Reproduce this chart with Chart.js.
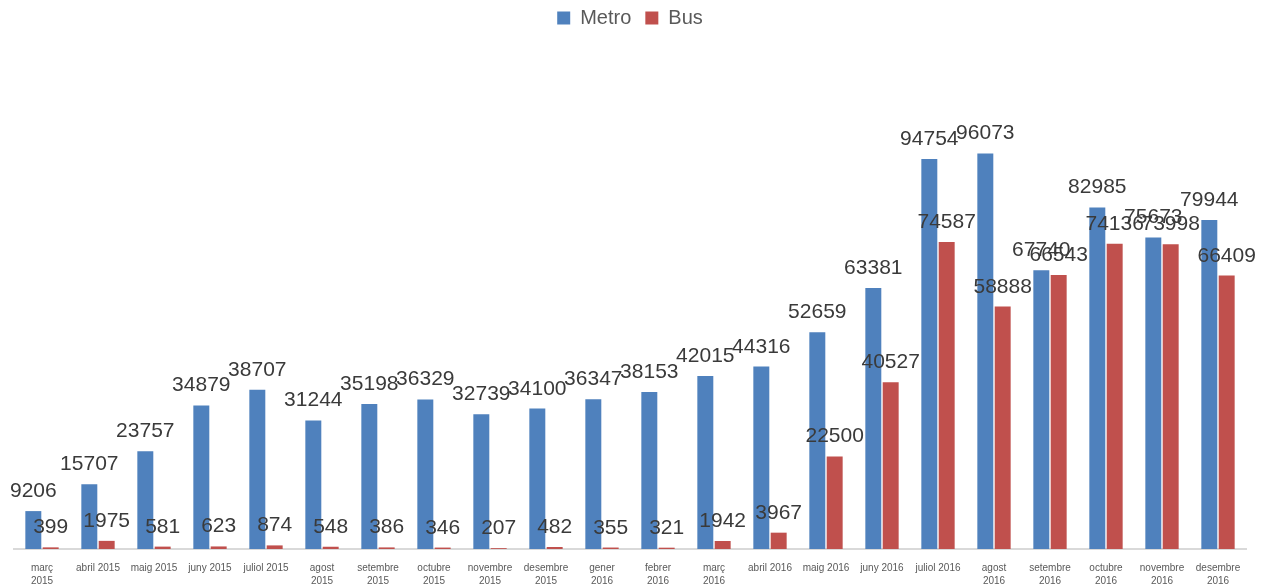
<!DOCTYPE html>
<html>
<head>
<meta charset="utf-8">
<script src="https://cdn.jsdelivr.net/npm/chart.js@4"></script>
<style>
  html, body { margin: 0; padding: 0; background: #fff; }
  #wrap { width: 1268px; height: 587px; }
</style>
</head>
<body>
<div id="wrap"><canvas id="chart" width="1268" height="587"></canvas></div>
<script>
const months = [
  ['març', '2015'], 'abril 2015', 'maig 2015', 'juny 2015', 'juliol 2015',
  ['agost', '2015'], ['setembre', '2015'], ['octubre', '2015'], ['novembre', '2015'], ['desembre', '2015'],
  ['gener', '2016'], ['febrer', '2016'], ['març', '2016'], 'abril 2016', 'maig 2016',
  'juny 2016', 'juliol 2016', ['agost', '2016'], ['setembre', '2016'], ['octubre', '2016'],
  ['novembre', '2016'], ['desembre', '2016']
];
const metro = [9206, 15707, 23757, 34879, 38707, 31244, 35198, 36329, 32739, 34100, 36347,
  38153, 42015, 44316, 52659, 63381, 94754, 96073, 67740, 82985, 75673, 79944];
const bus = [399, 1975, 581, 623, 874, 548, 386, 346, 207, 482, 355,
  321, 1942, 3967, 22500, 40527, 74587, 58888, 66543, 74136, 73998, 66409];

const FONT = '"Liberation Sans", Arial, sans-serif';

// value labels above each bar, like the Excel data labels
const barLabels = {
  id: 'barLabels',
  afterDatasetsDraw(chart) {
    const { ctx } = chart;
    ctx.save();
    ctx.font = '21px ' + FONT;
    ctx.fillStyle = '#3a3a3a';
    ctx.textAlign = 'center';
    ctx.textBaseline = 'alphabetic';
    chart.data.datasets.forEach((ds, di) => {
      chart.getDatasetMeta(di).data.forEach((bar, i) => {
        ctx.fillText(String(ds.data[i]), bar.x, bar.y - 14);
      });
    });
    ctx.restore();
  }
};

// keep the legend box a fixed height so the plot starts lower
const legendHeight = {
  id: 'legendHeight',
  beforeUpdate(chart) {
    const lg = chart.legend;
    if (lg && !lg._fixed) {
      const fit = lg.fit;
      lg.fit = function () { fit.call(this); this.height = 61; };
      lg._fixed = true;
    }
  }
};

new Chart(document.getElementById('chart'), {
  type: 'bar',
  data: {
    labels: months,
    datasets: [
      { label: 'Metro', data: metro, backgroundColor: '#4F81BD' },
      { label: 'Bus', data: bus, backgroundColor: '#C0504D' }
    ]
  },
  options: {
    responsive: false,
    animation: false,
    layout: { padding: { left: 14, right: 22, top: -6, bottom: 0 } },
    datasets: { bar: { categoryPercentage: 0.62, barPercentage: 0.92 } },
    plugins: {
      legend: {
        position: 'top',
        labels: {
          boxWidth: 13, boxHeight: 13, padding: 14,
          color: '#595959',
          font: { family: FONT, size: 20 }
        }
      },
      tooltip: { enabled: false }
    },
    scales: {
      y: { display: false, min: 0, max: 120000 },
      x: {
        grid: { display: false },
        border: { display: true, color: '#d9d9d9', width: 2 },
        afterFit(scale) { scale.height = 38; },
        ticks: {
          autoSkip: false, maxRotation: 0, minRotation: 0, padding: 5,
          color: '#595959',
          font: { family: FONT, size: 10, lineHeight: 1.3 }
        }
      }
    }
  },
  plugins: [barLabels, legendHeight]
});
</script>
</body>
</html>
